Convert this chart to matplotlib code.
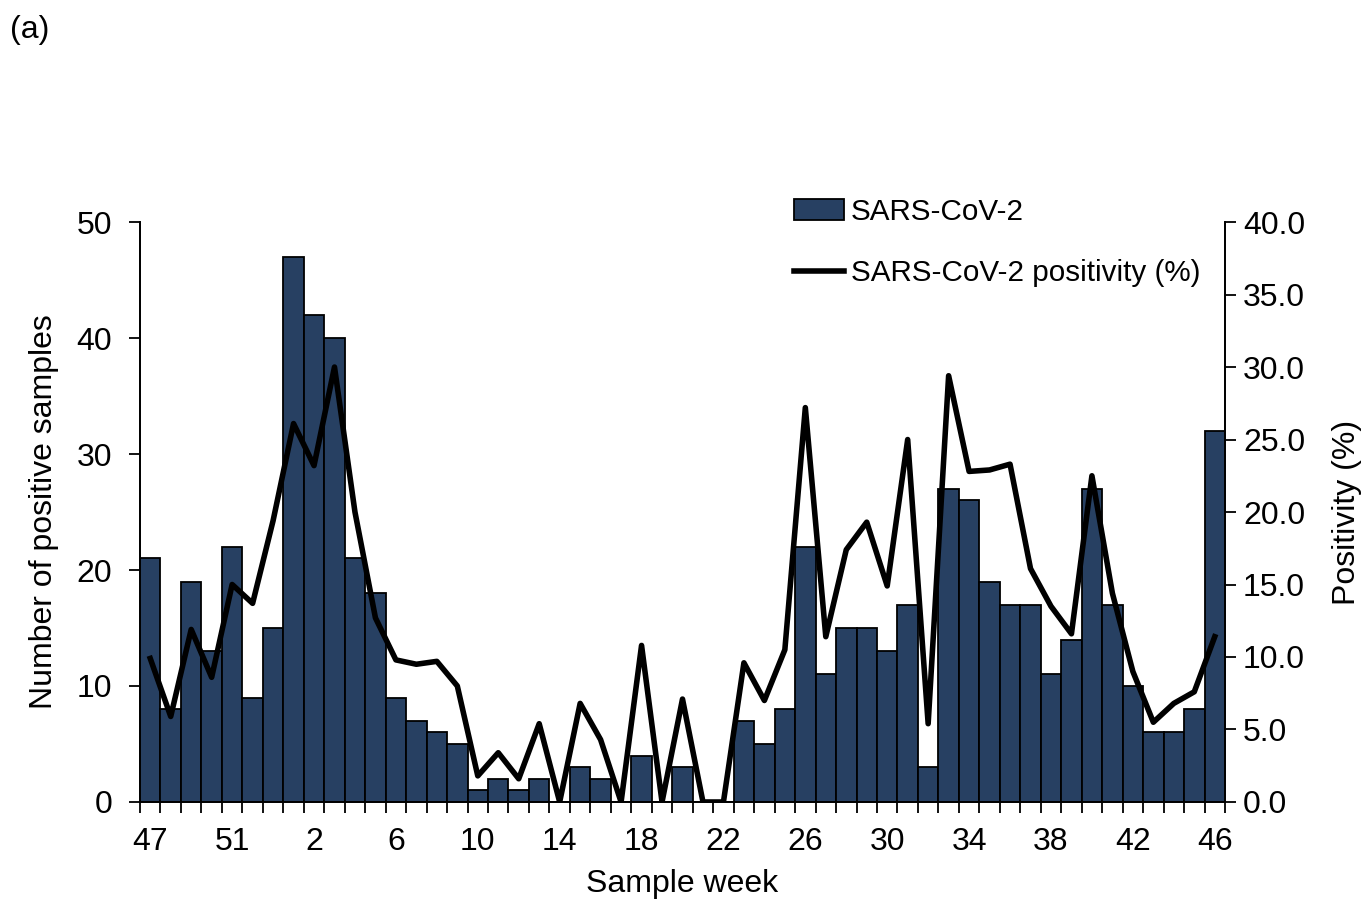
import matplotlib.pyplot as plt
import numpy as np

plt.rcParams['font.family'] = ['Liberation Sans', 'DejaVu Sans']

# sample weeks: 2020 wk 47-53, then 2021 wk 1-46
weeks = [47, 48, 49, 50, 51, 52, 53] + list(range(1, 47))

positives = [21, 8, 19, 13, 22, 9, 15,
             47, 42, 40, 21, 18, 9, 7, 6, 5, 1,
             2, 1, 2, 0, 3, 2, 0, 4, 0, 3,
             0, 0, 7, 5, 8, 22, 11, 15, 15, 13,
             17, 3, 27, 26, 19, 17, 17, 11, 14, 27,
             17, 10, 6, 6, 8, 32]

positivity = [9.9, 5.9, 11.9, 8.6, 15.0, 13.7, 19.4,
              26.1, 23.2, 30.0, 20.0, 12.7, 9.8, 9.5, 9.7, 8.0, 1.8,
              3.4, 1.6, 5.4, 0.0, 6.8, 4.3, 0.0, 10.8, 0.0, 7.1,
              0.0, 0.0, 9.6, 7.0, 10.5, 27.2, 11.4, 17.4, 19.3, 14.9,
              25.0, 5.4, 29.4, 22.8, 22.9, 23.3, 16.1, 13.5, 11.6, 22.5,
              14.4, 9.0, 5.5, 6.8, 7.6, 11.4]

x = np.arange(len(weeks))
fs = 23

fig = plt.figure(figsize=(13.62, 9), dpi=100)
ax = fig.add_axes([0.1028, 0.1089, 0.7966, 0.6444])
ax2 = ax.twinx()

bars = ax.bar(x, positives, width=1.0, color='#274062', edgecolor='black',
              linewidth=1.3, label='SARS-CoV-2')
line, = ax2.plot(x, positivity, color='black', linewidth=4.0,
                 label='SARS-CoV-2 positivity (%)')

ax.set_xlim(-0.5, len(weeks) - 0.5)
ax.set_ylim(0, 50)
ax.set_yticks(np.arange(0, 51, 10))
ax2.set_ylim(0, 40)
ax2.set_yticks(np.arange(0, 41, 5))
ax2.set_yticklabels([f'{v:.1f}' for v in np.arange(0, 41, 5)])

# tick marks at category boundaries, labels every 4th week
ax.set_xticks(np.arange(-0.5, len(weeks), 1.0))
ax.set_xticklabels([])
ax.set_xticks(x[::4], minor=True)
ax.set_xticklabels([str(weeks[i]) for i in x[::4]], minor=True)
ax.tick_params(axis='x', which='major', length=8, width=1.3, direction='out')
ax.tick_params(axis='x', which='minor', length=0, pad=18, labelsize=fs)
ax.tick_params(axis='y', length=8, width=1.3, labelsize=fs, pad=12)
ax2.tick_params(axis='y', length=8, width=1.3, labelsize=fs, pad=5)

for a in (ax, ax2):
    a.spines['top'].set_visible(False)
    for s in ('left', 'right', 'bottom'):
        a.spines[s].set_linewidth(1.3)

ax.set_xlabel('Sample week', fontsize=fs, labelpad=9)
ax.set_ylabel('Number of positive samples', fontsize=fs, labelpad=13)
ax2.set_ylabel('Positivity (%)', fontsize=fs, labelpad=19)

lfs = 21.3
fig.legend(handles=[bars, line], loc='upper left',
           bbox_to_anchor=(794 / 1362, 1 - 198 / 900), frameon=False,
           fontsize=lfs, handlelength=1.69, handletextpad=0.22,
           labelspacing=1.12, borderpad=0, borderaxespad=0)

fig.text(10 / 1362, 1 - 30 / 900, '(a)', fontsize=fs, va='center')

fig.savefig('out.png', dpi=100)
